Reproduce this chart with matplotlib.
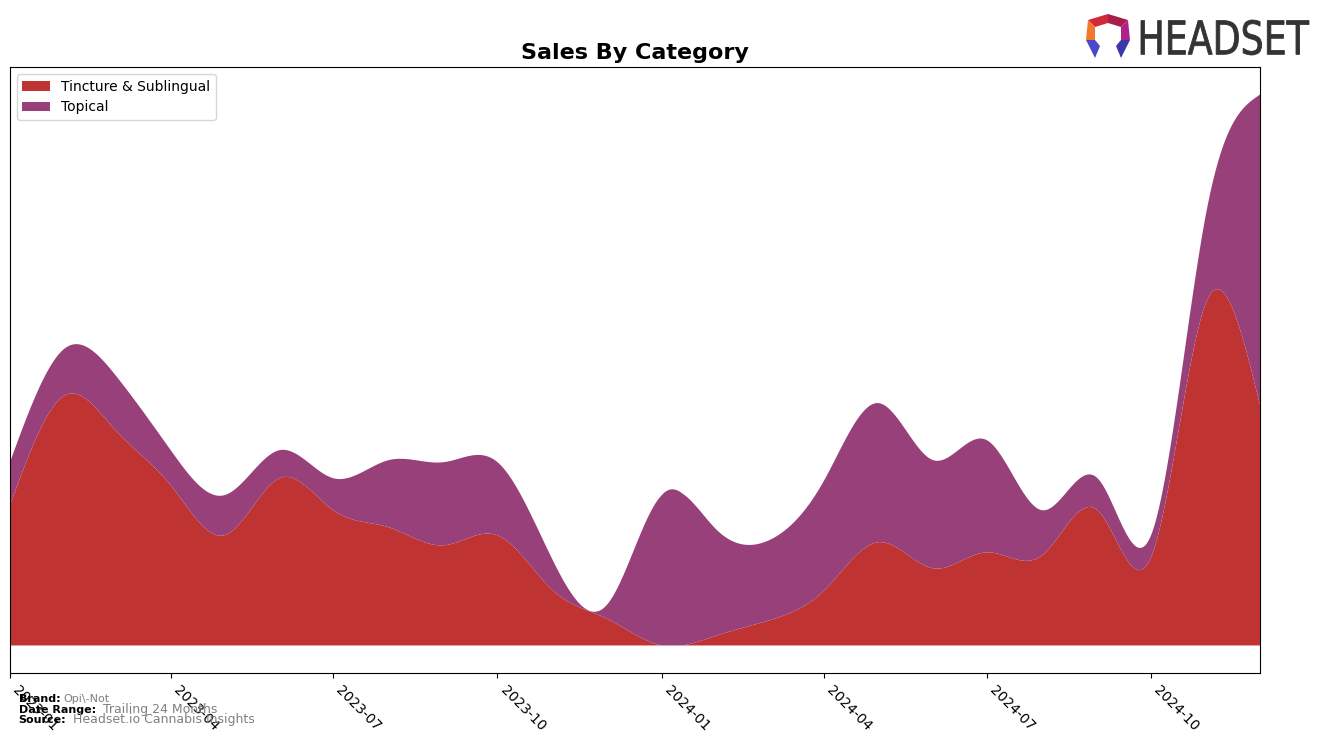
import matplotlib
matplotlib.use('Agg')
import matplotlib.pyplot as plt
import matplotlib.dates as mdates
from matplotlib.patches import Polygon, PathPatch
from matplotlib.textpath import TextPath
from matplotlib.font_manager import FontProperties
from matplotlib.transforms import Affine2D
import numpy as np
import pandas as pd

months = pd.date_range('2023-01-01', '2024-12-01', freq='MS')
tincture = [140, 250, 215, 160, 110, 167, 135, 118, 100, 110, 55, 27,
            0, 10, 25, 55, 103, 77, 93, 90, 135, 88, 343, 240]
topical = [43, 47, 55, 35, 40, 28, 32, 67, 83, 73, 30, 13,
           150, 105, 80, 110, 139, 108, 112, 45, 32, 22, 90, 310]
labels = ['Tincture & Sublingual', 'Topical']
colors = ['#C03333', '#97407A']


def spline(x, y, xs):
    # natural cubic spline, only used to draw smooth curves
    x = np.asarray(x, float)
    y = np.asarray(y, float)
    n = len(x)
    h = np.diff(x)
    A = np.zeros((n, n))
    b = np.zeros(n)
    A[0, 0] = A[-1, -1] = 1
    for i in range(1, n - 1):
        A[i, i - 1] = h[i - 1]
        A[i, i] = 2 * (h[i - 1] + h[i])
        A[i, i + 1] = h[i]
        b[i] = 3 * ((y[i + 1] - y[i]) / h[i] - (y[i] - y[i - 1]) / h[i - 1])
    c = np.linalg.solve(A, b)
    idx = np.clip(np.searchsorted(x, xs) - 1, 0, n - 2)
    dx = xs - x[idx]
    bb = (y[idx + 1] - y[idx]) / h[idx] - h[idx] * (2 * c[idx] + c[idx + 1]) / 3
    dd = (c[idx + 1] - c[idx]) / (3 * h[idx])
    return y[idx] + bb * dx + c[idx] * dx ** 2 + dd * dx ** 3


xnum = mdates.date2num(months)
xs = np.linspace(xnum[0], xnum[-1], 800)
t_s = np.clip(spline(xnum, tincture, xs), 0, None)
p_s = np.clip(spline(xnum, topical, xs), 0, None)

fig = plt.figure(figsize=(13.24, 7.43), dpi=100)
ax = fig.add_axes([0.00755, 0.0942, 0.9441, 0.8156])
ax.stackplot(mdates.num2date(xs), t_s, p_s, labels=labels, colors=colors)
ax.set_xlim(months[0], months[-1])
top = (t_s + p_s).max()
ax.set_ylim(-0.05 * top, 1.05 * top)
ax.set_yticks([])
ax.xaxis.set_major_locator(mdates.MonthLocator(bymonth=[1, 4, 7, 10]))
ax.xaxis.set_major_formatter(mdates.DateFormatter('%Y-%m'))
plt.setp(ax.get_xticklabels(), rotation=-45, ha='left', fontsize=10)
ax.set_title('Sales By Category', fontsize=16, fontweight='bold')
ax.legend(loc='upper left', fontsize=10)

# footer
fig.text(0.014, 0.055, 'Brand:', fontsize=8, fontweight='bold')
fig.text(0.048, 0.055, 'Opi\\-Not', fontsize=8, color='gray')
fig.text(0.014, 0.041, 'Date Range:', fontsize=8, fontweight='bold')
fig.text(0.078, 0.041, 'Trailing 24 Months', fontsize=9, color='gray')
fig.text(0.014, 0.027, 'Source:', fontsize=8, fontweight='bold')
fig.text(0.055, 0.027, 'Headset.io Cannabis Insights', fontsize=9, color='gray')

# logo: condensed wordmark
tp = TextPath((0, 0), 'HEADSET', size=1, prop=FontProperties(family='DejaVu Sans'))
ext = tp.get_extents()
W, H = 1141 / 1324, 1 - 55 / 743
tr = (Affine2D().translate(-ext.x0, -ext.y0)
      .scale((168 / 1324) / ext.width, (35 / 743) / ext.height)
      .translate(W, H))
fig.patches.append(PathPatch(tr.transform_path(tp), transform=fig.transFigure,
                             facecolor='#333333', edgecolor='#333333', lw=0.6))
lx, ly = 1108 / 1324, 1 - 36 / 743
sx, sy = 1 / 1324, 1 / 743
pts = {
    'top': [(-20, 16), (0, 22), (0, 13), (-13, 9)],
    'topr': [(0, 22), (20, 16), (13, 9), (0, 13)],
    'left': [(-20, 16), (-13, 9), (-13, -4), (-22, -4)],
    'right': [(20, 16), (22, -4), (13, -4), (13, 9)],
    'bl': [(-22, -4), (-13, -4), (-8, -10), (-13, -22)],
    'br': [(22, -4), (13, -4), (8, -10), (13, -22)],
}
cols = {'top': '#D02A3A', 'topr': '#A81E4A', 'left': '#F07A2A', 'right': '#B0208A',
        'bl': '#4A48C8', 'br': '#3838A8'}
for k, p in pts.items():
    poly = [(lx + px * sx, ly + py * sy) for px, py in p]
    fig.patches.append(Polygon(poly, closed=True, transform=fig.transFigure,
                               facecolor=cols[k], edgecolor='none'))

fig.savefig('out.png', dpi=100)
